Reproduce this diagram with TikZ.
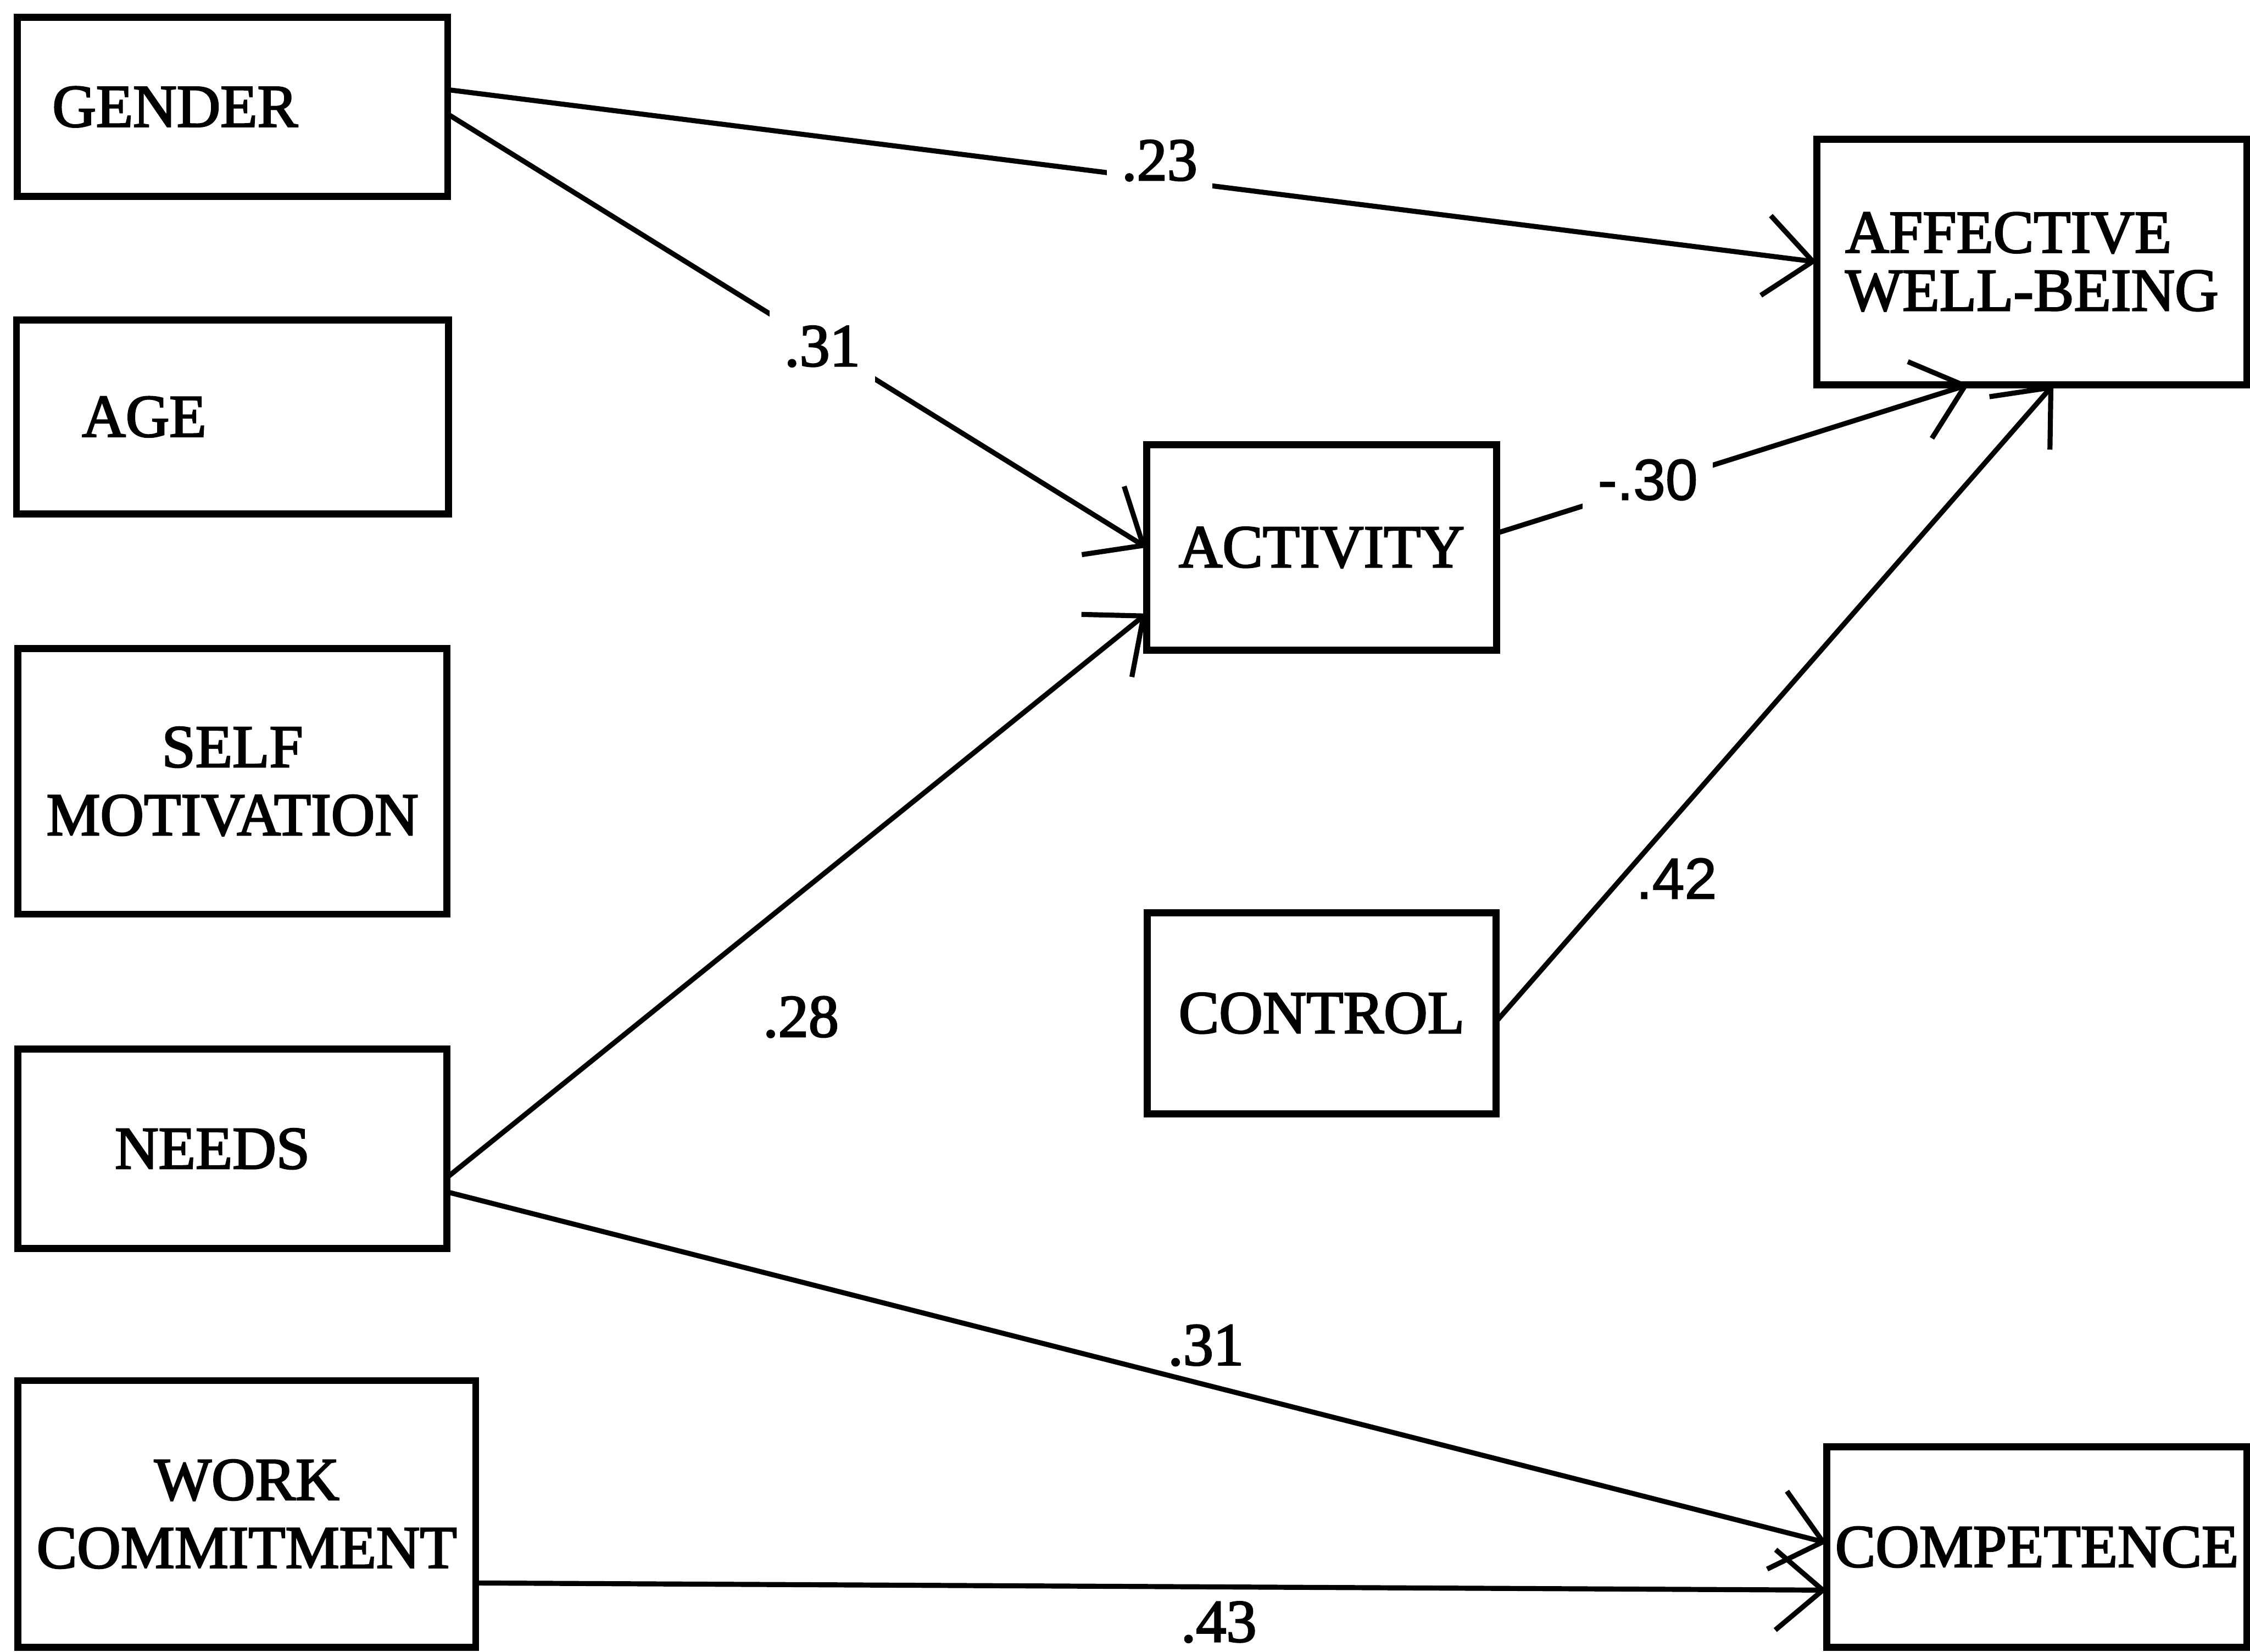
\documentclass[tikz,border=0pt]{standalone}
\usepackage{fontspec}
\setmainfont{Liberation Serif}
\newfontfamily\boxfont{Liberation Serif}[FakeBold=2.5]
\newfontfamily\numfont{Liberation Sans}[FakeBold=1.5]
\usetikzlibrary{arrows.meta,positioning}
\tikzset{
varbox/.style={draw,line width=1.4pt,inner sep=0pt,outer sep=0pt,align=center,font=\boxfont\fontsize{12}{13.5}\selectfont},
coef/.style={font=\boxfont\fontsize{12}{12}\selectfont,inner sep=1pt},
coefsans/.style={font=\numfont\fontsize{11.5}{11.5}\selectfont,inner sep=1pt},
gap/.style={fill=white,inner sep=3pt},
link/.style={-{Straight Barb[length=3.3mm,width=5.6mm]},line width=1pt}
}
\begin{document}
\begin{tikzpicture}[node distance=1cm]
\useasboundingbox (0,0) rectangle (15.68,11.51);
% predictors
\node[varbox,minimum width=3cm,minimum height=1.25cm] (gender) at (1.62,10.765) {GENDER\hspace*{8mm}};
\node[varbox,minimum width=3.01cm,minimum height=1.35cm,below=.86cm of gender] (age) {AGE\hspace*{12.3mm}};
\node[varbox,minimum width=2.99cm,minimum height=1.85cm,below=.94cm of age] (selfmot) {SELF\\MOTIVATION};
\node[varbox,minimum width=2.99cm,minimum height=1.39cm,below=.94cm of selfmot] (needs) {NEEDS\hspace*{2.8mm}};
\node[varbox,minimum width=3.19cm,minimum height=1.86cm,below right=.92cm and 0cm of needs.south west] (work) {WORK\\COMMITMENT};
% mediators and outcomes
\node[varbox,minimum width=2.44cm,minimum height=1.43cm] (act) at (9.21,7.695) {ACTIVITY};
\node[varbox,minimum width=2.43cm,minimum height=1.40cm,below=1.83cm of act] (ctrl) {CONTROL};
\node[varbox,minimum width=3cm,minimum height=1.71cm,align=left] (awb) at (14.16,9.685) {AFFECTIVE\\[-2pt]WELL-BEING};
\node[varbox,minimum width=2.93cm,minimum height=1.40cm,below left=7.4cm and 0cm of awb.south east] (comp) {COMPETENCE};
% paths
\draw[link]([yshift=1.2mm]gender.east)--node[coef,gap,pos=.52,yshift=1.3mm](l23){.23}(awb.west);
\draw[link]([yshift=-.5mm]gender.east)--node[coef,gap,pos=.536](l31a){.31}(act.west);
\draw[link]([yshift=1mm]act.east)--node[coefsans,gap,pos=.32,yshift=.4mm](l30){-.30}([xshift=-4.4mm]awb.south);
\draw[link]([yshift=-.6mm]ctrl.east)--node[coefsans,pos=.225,anchor=west,xshift=.5mm](l42){.42}([xshift=1.5mm]awb.south);
\draw[link]([yshift=-2mm]needs.east)--node[coef,pos=.506,yshift=-8.7mm](l28){.28}([yshift=-4.6mm]act.west);
\draw[link]([yshift=-3mm]needs.east)--node[coef,pos=.55,above=.8mm](l31b){.31}([yshift=.3mm]comp.west);
\draw[link]([yshift=-4.8mm]work.east)--node[coef,pos=.55,below=.5mm](l43){.43}([yshift=-3mm]comp.west);
\end{tikzpicture}
\end{document}
